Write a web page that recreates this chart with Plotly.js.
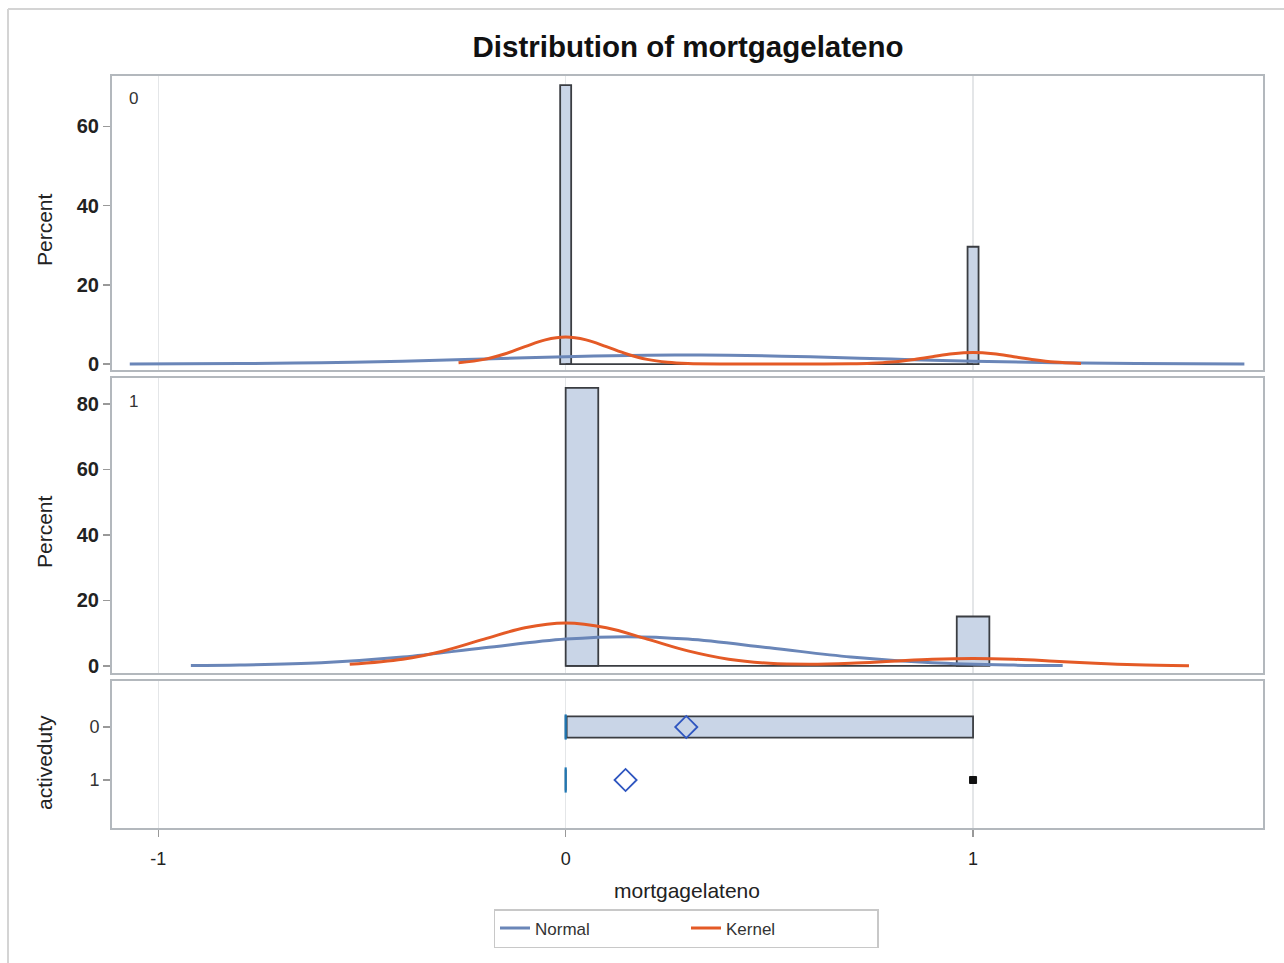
<!DOCTYPE html>
<html>
<head>
<meta charset="utf-8">
<script src="https://cdn.plot.ly/plotly-3.0.1.min.js"></script>
<style>html,body{margin:0;padding:0;background:#fff;}#chart{width:1284px;height:963px;}</style>
</head>
<body>
<div id="chart"></div>
<script>
// ---------- data ----------
// Panel activeduty = 0 : histogram (percent)
var histTopX = [0, 1];
var histTopY = [70.4, 29.6];
var histTopWidth = 0.027;
// Panel activeduty = 1 : histogram (percent)
var histMidX = [0.04, 1.0];
var histMidY = [84.9, 15.1];
var histMidWidth = 0.08;

// Normal curve, activeduty = 0
var normTopX = [-1.07, -0.8, -0.6, -0.4, -0.2, 0, 0.2, 0.3, 0.4, 0.6, 0.8, 1.0, 1.2, 1.4, 1.666];
var normTopY = [0.03, 0.13, 0.33, 0.72, 1.27, 1.86, 2.25, 2.3, 2.24, 1.84, 1.25, 0.70, 0.32, 0.12, 0.03];
// Kernel curve, activeduty = 0
var kernTopX = [-0.263, -0.2, -0.15, -0.1, -0.05, 0, 0.05, 0.1, 0.15, 0.2, 0.25, 0.3, 0.4, 0.5, 0.6, 0.7, 0.75, 0.8, 0.85, 0.9, 0.95, 1.0, 1.05, 1.1, 1.15, 1.2, 1.265];
var kernTopY = [0.33, 1.18, 2.55, 4.39, 6.1, 6.8, 6.1, 4.39, 2.55, 1.18, 0.44, 0.13, 0.01, 0.0, 0.01, 0.06, 0.19, 0.50, 1.09, 1.87, 2.60, 2.9, 2.60, 1.87, 1.09, 0.50, 0.13];

// Normal curve, activeduty = 1
var normMidX = [-0.92, -0.8, -0.6, -0.4, -0.2, 0, 0.15, 0.3, 0.5, 0.7, 0.9, 1.1, 1.22];
var normMidY = [0.10, 0.26, 0.98, 2.73, 5.53, 8.19, 8.94, 8.19, 5.53, 2.73, 0.98, 0.26, 0.10];
// Kernel curve, activeduty = 1
var kernMidX = [-0.53, -0.4, -0.3, -0.2, -0.1, 0, 0.1, 0.2, 0.3, 0.4, 0.5, 0.6, 0.7, 0.8, 0.9, 1.0, 1.1, 1.2, 1.3, 1.4, 1.53];
var kernMidY = [0.49, 2.03, 4.58, 8.2, 11.66, 13.1, 11.66, 8.2, 4.59, 2.06, 0.83, 0.55, 0.85, 1.44, 2.05, 2.3, 2.05, 1.44, 0.81, 0.36, 0.09];

// Box plot statistics by activeduty
var boxCats = ['0', '1'];
var boxQ1 = [0, 0];
var boxMedian = [0, 0];
var boxQ3 = [1, 0];
var boxLow = [0, 0];
var boxHigh = [1, 0];
var boxMean = [0.296, 0.147];
var outlierX = [1];
var outlierCat = ['1'];

var xTickVals = [-1, 0, 1];
var xTickText = ['-1', '0', '1'];

// ---------- styles ----------
var histFill = '#c9d5e7';
var histLine = '#3a3d42';
var normalColor = '#6a86b8';
var kernelColor = '#e45a26';
var meanColor = '#2f56c0';
var frameColor = '#b3b8bd';
var font = 'Liberation Sans, Arial, sans-serif';
var narrow = 'Liberation Sans Narrow, Arial Narrow, ' + font;

var traces = [];
// top panel
traces.push({type: 'bar', x: histTopX, y: histTopY, width: histTopWidth, xaxis: 'x3', yaxis: 'y3',
  marker: {color: histFill, line: {color: histLine, width: 1.8}}, showlegend: false});
traces.push({type: 'scatter', mode: 'lines', x: [0, 1], y: [0, 0], xaxis: 'x3', yaxis: 'y3',
  line: {color: histLine, width: 1.8}, showlegend: false, hoverinfo: 'skip'});
traces.push({type: 'scatter', mode: 'lines', x: normTopX, y: normTopY, xaxis: 'x3', yaxis: 'y3',
  line: {color: normalColor, width: 3, shape: 'spline'}, name: 'Normal', legendgroup: 'n', showlegend: true});
traces.push({type: 'scatter', mode: 'lines', x: kernTopX, y: kernTopY, xaxis: 'x3', yaxis: 'y3',
  line: {color: kernelColor, width: 3, shape: 'spline'}, name: 'Kernel', legendgroup: 'k', showlegend: true});
// middle panel
traces.push({type: 'bar', x: histMidX, y: histMidY, width: histMidWidth, xaxis: 'x2', yaxis: 'y2',
  marker: {color: histFill, line: {color: histLine, width: 1.8}}, showlegend: false});
traces.push({type: 'scatter', mode: 'lines', x: [0, 1], y: [0, 0], xaxis: 'x2', yaxis: 'y2',
  line: {color: histLine, width: 1.8}, showlegend: false, hoverinfo: 'skip'});
traces.push({type: 'scatter', mode: 'lines', x: normMidX, y: normMidY, xaxis: 'x2', yaxis: 'y2',
  line: {color: normalColor, width: 3, shape: 'spline'}, name: 'Normal', legendgroup: 'n', showlegend: false});
traces.push({type: 'scatter', mode: 'lines', x: kernMidX, y: kernMidY, xaxis: 'x2', yaxis: 'y2',
  line: {color: kernelColor, width: 3, shape: 'spline'}, name: 'Kernel', legendgroup: 'k', showlegend: false});
// box panel
for (var i = 0; i < boxCats.length; i++) {
  traces.push({type: 'box', orientation: 'h', y: [boxCats[i]], q1: [boxQ1[i]], median: [boxMedian[i]], q3: [boxQ3[i]],
    lowerfence: [boxLow[i]], upperfence: [boxHigh[i]], width: 0.4, whiskerwidth: 0,
    xaxis: 'x', yaxis: 'y', fillcolor: histFill, line: {color: '#3a3d42', width: 1.8},
    showlegend: false, boxpoints: false});
}
traces.push({type: 'scatter', mode: 'markers', x: boxMedian, y: boxCats, xaxis: 'x', yaxis: 'y',
  marker: {symbol: 'line-ns-open', size: 18, line: {color: meanColor, width: 2.2}}, showlegend: false});
traces.push({type: 'scatter', mode: 'markers', x: boxMean, y: boxCats, xaxis: 'x', yaxis: 'y',
  marker: {symbol: 'diamond-open', size: 17, color: meanColor, line: {color: meanColor, width: 1.8}}, showlegend: false});
traces.push({type: 'scatter', mode: 'markers', x: outlierX, y: outlierCat, xaxis: 'x', yaxis: 'y',
  marker: {symbol: 'square', size: 7, color: '#111', line: {color: '#111', width: 1}}, showlegend: false});

var W = 1284, H = 963;
function px(x) { return x / W; }
function py(y) { return 1 - y / H; }
var xDomain = [px(112), px(1263)];
var xRange = [-1.1136, 1.7117];

var common = {range: xRange, showgrid: true, gridcolor: '#e4e6e8', gridwidth: 1.2,
  tickvals: xTickVals, ticktext: xTickText, zeroline: false,
  showline: true, mirror: true, linecolor: frameColor, linewidth: 2};

var yTickFont = {size: 20, color: '#222', weight: 'bold'};

var layout = {
  width: W, height: H,
  margin: {l: 0, r: 0, t: 0, b: 0},
  paper_bgcolor: '#fff', plot_bgcolor: '#fff',
  font: {family: font, color: '#222'},
  showlegend: true,
  bargap: 0,
  title: {text: '<b>Distribution of mortgagelateno</b>', x: px(688), xanchor: 'center', y: py(47), yanchor: 'middle',
    font: {family: font, size: 29.5, color: '#111'}},
  xaxis: Object.assign({}, common, {domain: xDomain, anchor: 'y', ticks: 'outside', ticklen: 7, tickcolor: '#999',
    tickwidth: 1.5, showticklabels: true, ticklabelstandoff: 6, tickfont: {size: 18, color: '#222'}}),
  xaxis2: Object.assign({}, common, {domain: xDomain, anchor: 'y2', matches: 'x', showticklabels: false, ticks: ''}),
  xaxis3: Object.assign({}, common, {domain: xDomain, anchor: 'y3', matches: 'x', showticklabels: false, ticks: ''}),
  yaxis: {domain: [py(828), py(681)], type: 'category', categoryarray: boxCats, range: [1.906, -0.868],
    anchor: 'x', showgrid: false, zeroline: false, ticks: 'outside', ticklen: 7, tickcolor: '#999', tickwidth: 1.5,
    tickfont: {size: 18, color: '#333'}, showline: true, mirror: true, linecolor: frameColor, linewidth: 2},
  yaxis2: {domain: [py(672.5), py(378)], range: [-2.0, 87.9], anchor: 'x2', tickvals: [0, 20, 40, 60, 80],
    showgrid: false, zeroline: false, ticks: 'outside', ticklen: 7, tickcolor: '#999', tickwidth: 1.5,
    tickfont: yTickFont, showline: true, mirror: true, linecolor: frameColor, linewidth: 2},
  yaxis3: {domain: [py(370), py(76)], range: [-1.5, 72.7], anchor: 'x3', tickvals: [0, 20, 40, 60],
    showgrid: false, zeroline: false, ticks: 'outside', ticklen: 7, tickcolor: '#999', tickwidth: 1.5,
    tickfont: yTickFont, showline: true, mirror: true, linecolor: frameColor, linewidth: 2},
  legend: {orientation: 'h', x: px(686), xanchor: 'center', y: py(909), yanchor: 'top',
    bordercolor: '#c8c8c8', borderwidth: 1.5, bgcolor: '#fff', entrywidth: 146, entrywidthmode: 'pixels',
    font: {size: 17, color: '#333', family: font}, traceorder: 'normal'},
  annotations: [
    {text: 'Percent', xref: 'paper', yref: 'paper', x: px(44), y: py(229), xanchor: 'center', yanchor: 'middle',
      textangle: -90, showarrow: false, font: {family: narrow, size: 21, color: '#222'}},
    {text: 'Percent', xref: 'paper', yref: 'paper', x: px(44), y: py(531), xanchor: 'center', yanchor: 'middle',
      textangle: -90, showarrow: false, font: {family: narrow, size: 21, color: '#222'}},
    {text: 'activeduty', xref: 'paper', yref: 'paper', x: px(44), y: py(762), xanchor: 'center', yanchor: 'middle',
      textangle: -90, showarrow: false, font: {family: narrow, size: 21, color: '#222'}},
    {text: 'mortgagelateno', xref: 'paper', yref: 'paper', x: px(687), y: py(890), xanchor: 'center', yanchor: 'middle',
      showarrow: false, font: {family: font, size: 21, color: '#222'}},
    {text: '0', xref: 'paper', yref: 'paper', x: px(133), y: py(98), xanchor: 'center', yanchor: 'middle',
      showarrow: false, font: {family: font, size: 17, color: '#333'}},
    {text: '1', xref: 'paper', yref: 'paper', x: px(133), y: py(401), xanchor: 'center', yanchor: 'middle',
      showarrow: false, font: {family: font, size: 17, color: '#333'}}
  ],
  shapes: [
    {type: 'line', xref: 'paper', yref: 'paper', x0: px(8), x1: px(8), y0: 0, y1: py(9), line: {color: '#d4d4d4', width: 2}},
    {type: 'line', xref: 'paper', yref: 'paper', x0: px(8), x1: 1, y0: py(9), y1: py(9), line: {color: '#d4d4d4', width: 2}}
  ]
};

Plotly.newPlot('chart', traces, layout, {displayModeBar: false, staticPlot: true});
</script>
</body>
</html>
